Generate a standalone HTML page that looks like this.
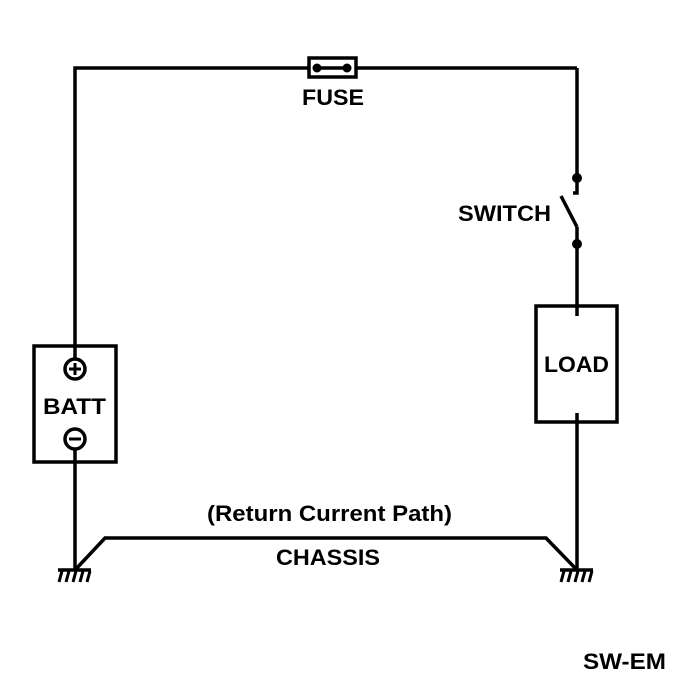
<!DOCTYPE html>
<html><head><meta charset="utf-8"><style>html,body{margin:0;padding:0;background:#fff}</style></head>
<body>
<svg width="700" height="700" xmlns="http://www.w3.org/2000/svg" style="display:block">
<g stroke="#000" stroke-width="3.5" fill="none">
<polyline points="75,358 75,68 308,68"/>
<line x1="356" y1="68" x2="577" y2="68"/>
<rect x="309" y="58" width="47" height="19"/>
<line x1="317" y1="68" x2="347" y2="68"/>
<polyline points="577,68 577,193 573,193"/>
<line x1="561" y1="196" x2="577" y2="227"/>
<line x1="577" y1="227" x2="577" y2="316"/>
<rect x="536" y="306" width="81" height="116"/>
<line x1="577" y1="413" x2="577" y2="570"/>
<rect x="34" y="346" width="82" height="116"/>
<circle cx="75" cy="369" r="10"/>
<circle cx="75" cy="439" r="10"/>
<line x1="75" y1="449" x2="75" y2="570"/>
<polyline points="75,570 105,538 546,538 577,570"/>
<line x1="58" y1="570" x2="91" y2="570"/>
<line x1="560" y1="570" x2="593" y2="570"/>
</g>
<g stroke="#000" stroke-width="3">
<line x1="69" y1="369" x2="81" y2="369"/><line x1="75" y1="363" x2="75" y2="375"/>
<line x1="69" y1="439" x2="81" y2="439"/>
<line x1="62" y1="571" x2="59" y2="582"/><line x1="69" y1="571" x2="66" y2="582"/><line x1="76" y1="571" x2="73" y2="582"/><line x1="83" y1="571" x2="80" y2="582"/><line x1="90" y1="571" x2="87" y2="582"/>
<line x1="564" y1="571" x2="561" y2="582"/><line x1="571" y1="571" x2="568" y2="582"/><line x1="578" y1="571" x2="575" y2="582"/><line x1="585" y1="571" x2="582" y2="582"/><line x1="592" y1="571" x2="589" y2="582"/>
</g>
<g fill="#000">
<circle cx="317" cy="68" r="4.5"/><circle cx="347" cy="68" r="4.5"/>
<circle cx="577" cy="178" r="5"/><circle cx="577" cy="244" r="5"/>
</g>
<g font-family="Liberation Sans, sans-serif" font-weight="bold" font-size="22" fill="#000" lengthAdjust="spacingAndGlyphs">
<text x="302" y="105" textLength="62" lengthAdjust="spacingAndGlyphs">FUSE</text>
<text x="458" y="221" textLength="93" lengthAdjust="spacingAndGlyphs">SWITCH</text>
<text x="544" y="372" textLength="65" lengthAdjust="spacingAndGlyphs">LOAD</text>
<text x="43" y="414" textLength="63" lengthAdjust="spacingAndGlyphs">BATT</text>
<text x="207" y="521" textLength="245" lengthAdjust="spacingAndGlyphs">(Return Current Path)</text>
<text x="276" y="565" textLength="104" lengthAdjust="spacingAndGlyphs">CHASSIS</text>
<text x="583" y="669" textLength="83" lengthAdjust="spacingAndGlyphs">SW-EM</text>
</g>
</svg>
</body></html>
